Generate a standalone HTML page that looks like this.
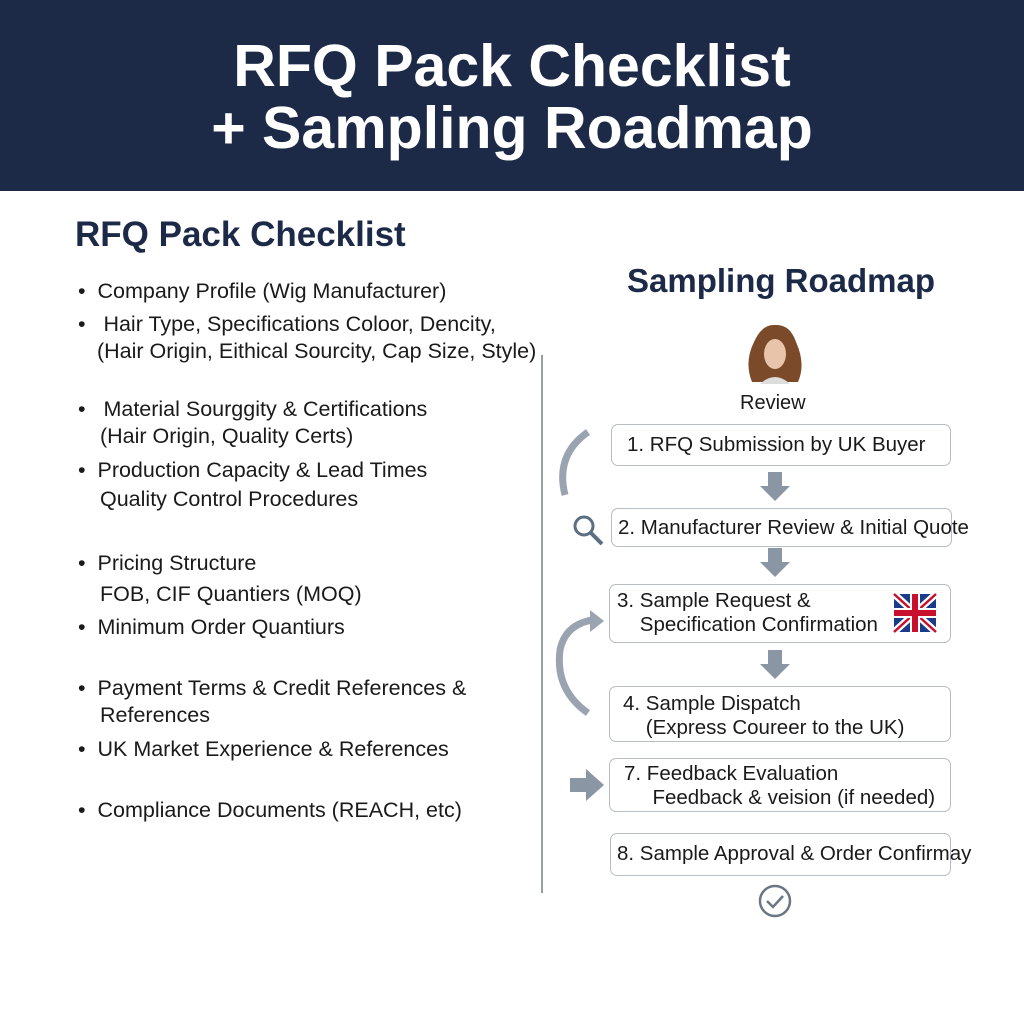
<!DOCTYPE html>
<html><head><style>
body{margin:0;width:1024px;height:1024px;background:#fff;font-family:"Liberation Sans",sans-serif;position:relative;overflow:hidden;color:#1a1a1a}
.hd{position:absolute;left:0;top:0;width:1024px;height:191px;background:#1c2a48;color:#fff;text-align:center;font-weight:bold;font-size:59px;line-height:62px}
.t{position:absolute;white-space:nowrap;font-size:21.5px}
.b{position:absolute;border:1.5px solid #b8bcc4;border-radius:7px;background:#fff;font-size:20.5px;white-space:nowrap;box-sizing:border-box;line-height:24px}
</style></head><body>
<div class="hd"><div style="position:absolute;top:35px;width:100%">RFQ Pack Checklist</div><div style="position:absolute;top:97px;width:100%">+ Sampling Roadmap</div></div>
<div class="t" style="left:75px;top:215px;font-size:35px;font-weight:bold;color:#1c2a48">RFQ Pack Checklist</div>
<div class="t" style="left:78px;top:279px">•&nbsp; Company Profile (Wig Manufacturer)</div>
<div class="t" style="left:78px;top:312px">•&nbsp;&nbsp; Hair Type, Specifications Coloor, Dencity,</div>
<div class="t" style="left:97px;top:339px">(Hair Origin, Eithical Sourcity, Cap Size, Style)</div>
<div class="t" style="left:78px;top:397px">•&nbsp;&nbsp; Material Sourggity &amp; Certifications</div>
<div class="t" style="left:100px;top:424px">(Hair Origin, Quality Certs)</div>
<div class="t" style="left:78px;top:458px">•&nbsp; Production Capacity &amp; Lead Times</div>
<div class="t" style="left:100px;top:487px">Quality Control Procedures</div>
<div class="t" style="left:78px;top:551px">•&nbsp; Pricing Structure</div>
<div class="t" style="left:100px;top:582px">FOB, CIF Quantiers (MOQ)</div>
<div class="t" style="left:78px;top:615px">•&nbsp; Minimum Order Quantiurs</div>
<div class="t" style="left:78px;top:676px">•&nbsp; Payment Terms &amp; Credit References &amp;</div>
<div class="t" style="left:100px;top:703px">References</div>
<div class="t" style="left:78px;top:737px">•&nbsp; UK Market Experience &amp; References</div>
<div class="t" style="left:78px;top:798px">•&nbsp; Compliance Documents (REACH, etc)</div>
<div style="position:absolute;left:541px;top:355px;width:2px;height:538px;background:#9aa0a8"></div>
<div class="t" style="left:627px;top:262px;font-size:33px;font-weight:bold;color:#1c2a48">Sampling Roadmap</div>
<svg style="position:absolute;left:740px;top:322px" width="70" height="66"><path d="M12 60 Q4 40 14 20 Q22 2 35 3 Q50 2 56 20 Q66 42 58 60 Z" fill="#7a4a2a"/><ellipse cx="35" cy="32" rx="11" ry="15" fill="#e8c4aa"/><path d="M20 62 Q35 48 50 62 Z" fill="#ddd"/></svg>
<div class="t" style="left:740px;top:392px;font-size:20px">Review</div>
<div class="b" style="left:611px;top:424px;width:340px;height:42px;padding:8px 0 0 15px">1. RFQ Submission by UK Buyer</div>
<div class="b" style="left:611px;top:508px;width:341px;height:39px;padding:7px 0 0 6px">2. Manufacturer Review &amp; Initial Quote</div>
<div class="b" style="left:609px;top:584px;width:342px;height:59px;padding:4px 0 0 7px">3. Sample Request &amp;<br>&nbsp;&nbsp;&nbsp; Specification Confirmation</div>
<div class="b" style="left:609px;top:686px;width:342px;height:56px;padding:5px 0 0 13px">4. Sample Dispatch<br>&nbsp;&nbsp;&nbsp; (Express Coureer to the UK)</div>
<div class="b" style="left:609px;top:758px;width:342px;height:54px;padding:3px 0 0 14px">7. Feedback Evaluation<br>&nbsp;&nbsp;&nbsp;&nbsp; Feedback &amp; veision (if needed)</div>
<div class="b" style="left:610px;top:833px;width:341px;height:43px;padding:8px 0 0 6px">8. Sample Approval &amp; Order Confirmay</div>
<svg style="position:absolute;left:0;top:0" width="1024" height="1024">
<g fill="#8a96a4"><path d="M768 472h14v14h8l-15 15-15-15h8z"/><path d="M768 548h14v14h8l-15 15-15-15h8z"/><path d="M768 650h14v14h8l-15 15-15-15h8z"/><path d="M570 778h16v-9l18 16-18 16v-9h-16z"/></g>
<path d="M588 432 Q555 455 565 495" stroke="#9aa4b0" stroke-width="7" fill="none"/>
<path d="M588 713 Q555 690 560 650 Q565 625 592 620" stroke="#9aa4b0" stroke-width="7" fill="none"/><path d="M590 610 L604 621 L590 632 Z" fill="#9aa4b0"/>
<circle cx="584" cy="526" r="9" stroke="#5c6e82" stroke-width="3" fill="none"/><path d="M591 533 L602 544" stroke="#5c6e82" stroke-width="4"/>
<g transform="translate(894,594)"><rect width="42" height="38" fill="#1a3a8a"/><path d="M0 0L42 38M42 0L0 38" stroke="#fff" stroke-width="7"/><path d="M0 0L42 38M42 0L0 38" stroke="#c8102e" stroke-width="2.5"/><path d="M21 0V38M0 19H42" stroke="#fff" stroke-width="10"/><path d="M21 0V38M0 19H42" stroke="#c8102e" stroke-width="6"/></g>
<circle cx="775" cy="901" r="15" stroke="#6a7684" stroke-width="2.5" fill="none"/><path d="M767 901l6 6 10-11" stroke="#6a7684" stroke-width="2.5" fill="none"/>
</svg>
</body></html>
